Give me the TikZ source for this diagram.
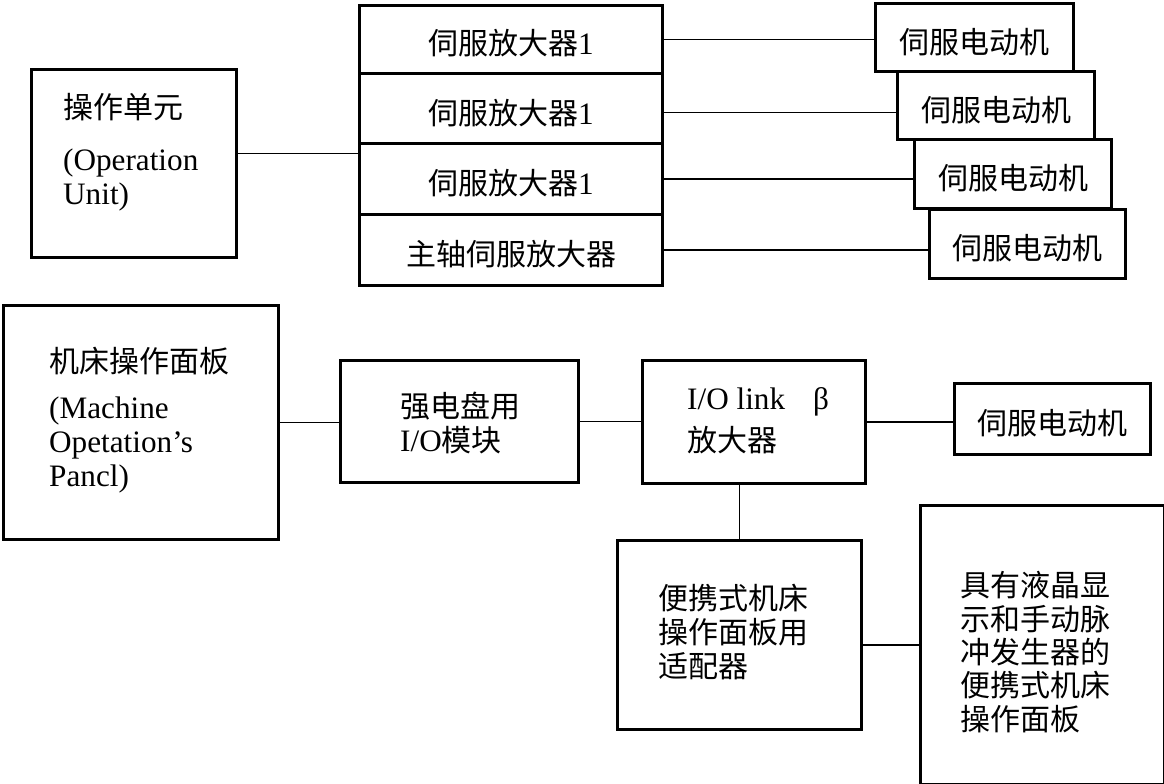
\documentclass[tikz,border=0pt]{standalone}
\usepackage{fontspec}
\setmainfont{Liberation Serif}[Scale=1.04]
\newfontfamily\cjk{Noto Sans CJK SC}
\begin{document}
\begin{tikzpicture}[x=1pt,y=-1pt,
  box/.style={draw, line width=3pt, inner sep=0pt, anchor=north west,
    font=\fontsize{30}{34}\selectfont, text height=31pt, text depth=0pt},
  txt/.style={inner sep=0pt, anchor=west, align=left, font=\fontsize{30}{34}\selectfont},
  ctxt/.style={txt, font=\cjk\fontsize{30}{34}\selectfont},
  conn/.style={line width=1.6pt}]
\useasboundingbox (0,0) rectangle (1164,784);

% operation unit
\node[box, minimum width=205pt, minimum height=188pt] (ou) at (30,68) {};
\node[txt] (out) at (63,152.5) {{\cjk 操作单元}\\[18pt](Operation\\Unit)};

% amplifier stack
\node[box, minimum width=303pt, minimum height=68pt] (a1) at (358,4) {{\cjk 伺服放大器}1};
\node[box, minimum width=303pt, minimum height=70pt] (a2) at (358,72) {{\cjk 伺服放大器}1};
\node[box, minimum width=303pt, minimum height=71pt] (a3) at (358,142) {{\cjk 伺服放大器}1};
\node[box, minimum width=303pt, minimum height=71pt] (a4) at (358,213) {{\cjk 主轴伺服放大器}};

% motors
\node[box, minimum width=198pt, minimum height=68pt] (m1) at (874,2) {\cjk 伺服电动机};
\node[box, minimum width=197pt, minimum height=68pt] (m2) at (896,70) {\cjk 伺服电动机};
\node[box, minimum width=197pt, minimum height=69pt] (m3) at (913,138) {\cjk 伺服电动机};
\node[box, minimum width=196pt, minimum height=69pt] (m4) at (928,208) {\cjk 伺服电动机};

% machine operation panel
\node[box, minimum width=275pt, minimum height=234pt] (mp) at (2,304) {};
\node[txt] (mpt) at (49,420) {{\cjk 机床操作面板}\\[12pt](Machine\\Opetation’s\\Pancl)};

% I/O module
\node[box, minimum width=238pt, minimum height=122pt] (iom) at (339,359) {};
\node[txt] (iomt) at (400,422.5) {{\cjk 强电盘用}\\I/O{\cjk 模块}};

% I/O link amplifier
\node[box, minimum width=223pt, minimum height=123pt] (iol) at (641,359) {};
\node[txt] (iolt) at (687,421) {I/O link\hspace{28pt}β\\[8pt]{\cjk 放大器}};

\node[box, minimum width=196pt, minimum height=71pt] (m5) at (953,382) {\cjk 伺服电动机};

% adapter
\node[box, minimum width=244pt, minimum height=189pt] (ad) at (616,539) {};
\node[ctxt] (adt) at (658,632.5) {便携式机床\\操作面板用\\适配器};

% LCD portable panel
\node[box, minimum width=244pt, minimum height=279pt] (lcd) at (919,504) {};
\node[ctxt, font=\cjk\fontsize{30}{33.3}\selectfont] (lcdt) at (960,652) {具有液晶显\\示和手动脉\\冲发生器的\\便携式机床\\操作面板};

% connectors
\coordinate (oup) at ([yshift=10pt]ou.east);
\draw[conn] (oup) -- (oup -| a3.west);
\draw[conn] (a1.east) -- (a1.east -| m1.west);
\draw[conn] ([yshift=-4pt]a2.east) -- ([yshift=-4pt]a2.east -| m2.west);
\draw[conn] (a3.east) -- (a3.east -| m3.west);
\draw[conn] (a4.east) -- (a4.east -| m4.west);
\draw[conn] (mp.east) -- (mp.east -| iom.west);
\draw[conn] (iom.east) -- (iom.east -| iol.west);
\draw[conn] (iol.east) -- (iol.east -| m5.west);
\draw[conn] (ad.north) -- (ad.north |- iol.south);
\draw[conn] (lcd.west) -- (lcd.west -| ad.east);
\end{tikzpicture}
\end{document}
